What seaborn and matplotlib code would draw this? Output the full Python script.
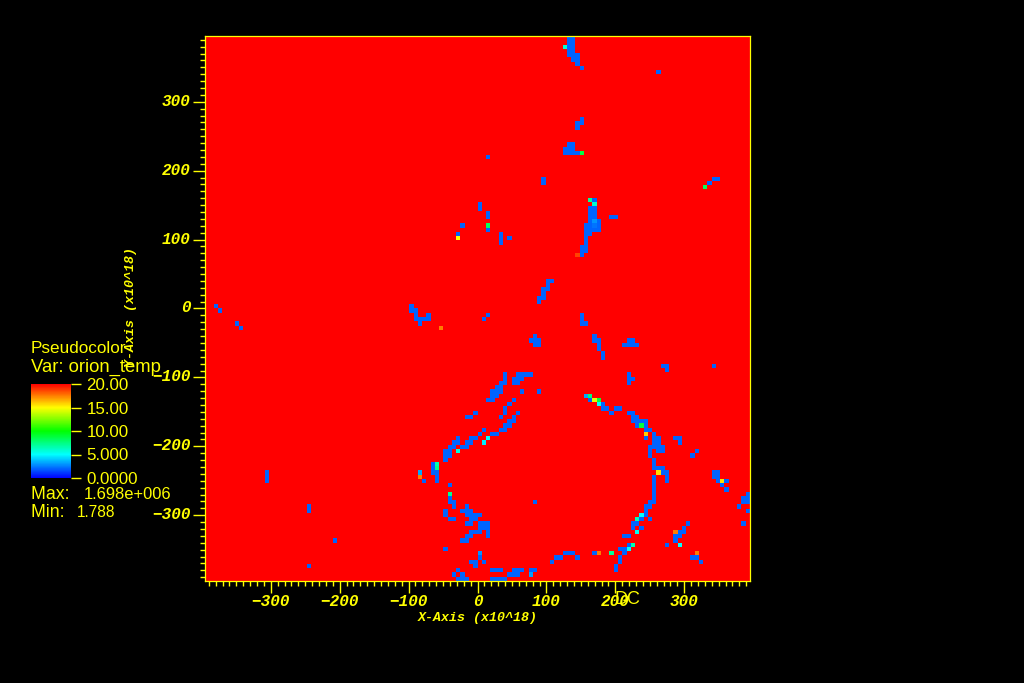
import numpy as np
import matplotlib
matplotlib.use("Agg")
import matplotlib.pyplot as plt
from matplotlib.colors import LinearSegmentedColormap
from matplotlib.transforms import ScaledTranslation
import seaborn as sns

# Grid description (x10^18 units)
N_CELLS = 128
EXTENT = 395.5
HOT_VALUE = 1000.0     # background temperature, far above the colour limit
COLD_VALUE = 2.0

# Cold runs: (row from top, first column, last column)
north_stream = [(0,85,86),(1,85,86),(2,85,86),(3,85,86),(4,85,87),(5,86,87),(6,87,87),(7,88,88),
                (8,106,106),(19,88,88),(20,87,88),(21,87,87),(25,85,86),(26,84,86),(27,84,87),(28,66,66),
                (33,79,79),(34,79,79),(33,119,120),(34,118,118)]
central_stream = [(38,91,91),(40,90,91),(41,90,91),(42,90,91),(42,95,96),(43,90,92),(44,89,92),(45,89,92),
                  (46,89,90),(47,89,89),(48,89,89),(49,88,89),(50,88,89),(51,88,88),
                  (39,64,64),(40,64,64),(41,66,66),(42,66,66),(44,60,60),(45,66,66),(46,59,59),
                  (46,69,69),(47,69,69),(48,69,69),(47,71,71)]
mid_knots = [(57,80,81),(58,80,80),(59,79,80),(60,79,79),(61,78,79),(62,78,78),
             (63,2,2),(64,3,3),(67,7,7),(68,8,8),
             (63,48,48),(64,48,49),(65,49,49),(65,52,52),(66,49,52),(67,50,50),(65,66,66),(66,65,65),
             (65,88,88),(66,88,88),(67,88,89),(70,77,77),(71,76,78),(72,77,78),
             (70,91,91),(71,91,92),(72,92,92),(73,92,92),(74,93,93),(75,93,93),
             (71,99,100),(72,98,101)]
west_arc = [(79,70,70),(79,73,76),(80,70,70),(80,72,74),(81,69,70),(81,72,73),(82,68,69),(83,67,69),
            (83,74,74),(83,78,78),(84,67,68),(85,66,67),(85,72,72),(86,71,71),(87,70,70),(88,63,63),
            (88,70,70),(88,73,73),(89,61,62),(89,69,69),(89,72,72),(90,71,72),(91,70,71),(92,65,65),
            (92,69,70),(93,64,64),(93,67,68),(94,59,59),(94,62,63),(95,58,59),(95,61,62),(96,57,58),
            (96,60,61),(97,56,57),(98,56,57),(99,56,56),(100,53,53),(101,53,53),(102,53,54),(103,54,54),
            (104,51,51),(104,54,54),(105,57,57),(108,57,57),(109,57,58),(109,77,77),(110,58,58),(110,61,61)]
southwest_knots = [(111,56,56),(111,60,62),(112,56,56),(112,61,64),(113,57,58),(113,62,63),(114,61,62),
                   (114,64,66),(115,64,66),(116,62,64),(116,66,66),(117,61,62),(117,66,66),(118,60,61),
                   (120,56,56),(122,64,64),(123,62,63),(123,65,65),(124,63,63),(125,59,59),(125,67,69),
                   (125,72,74),(125,76,77),(126,58,58),(126,60,60),(126,71,73),(127,59,61),(127,67,70),
                   (121,84,86),(122,82,83),(122,87,87),(123,81,81),
                   (102,14,14),(103,14,14),(104,14,14),(110,24,24),(111,24,24),(118,30,30),(124,24,24)]
east_arc = [(77,107,108),(77,119,119),(78,108,108),(79,99,99),(80,99,100),(81,99,99),(85,90,90),(86,93,93),
            (87,93,94),(87,96,97),(88,95,95),(88,99,100),(89,100,101),(90,100,103),(91,101,101),(91,103,103),
            (92,103,104),(93,105,105),(94,103,103),(94,105,106),(94,110,111),(95,105,106),(95,111,111),
            (96,104,107),(97,104,104),(97,106,107),(97,115,115),(98,104,104),(98,114,114),(99,105,105),
            (100,105,105),(101,105,107),(102,107,108),(102,119,120),(103,105,105),(103,108,108),(103,119,120),
            (104,105,105),(104,108,108),(104,120,120),(104,122,122),(105,105,105),(105,121,121),(106,105,105),
            (106,122,122),(107,105,105),(107,127,127),(108,105,105),(108,126,127),(109,104,105),(109,126,127),
            (110,103,104),(110,125,125),(111,103,103),(111,127,127),(112,103,103),(113,102,102),(113,104,104),
            (114,100,101),(114,113,113),(114,126,126),(115,100,100),(115,102,102),(115,112,112),(116,111,112),
            (117,98,99),(117,110,111),(118,110,110),(119,99,99),(119,108,108),(120,97,98),(121,91,91),(121,98,98),
            (122,97,97),(122,114,115),(123,97,97),(123,116,116),(124,96,96),(125,96,96)]

# Warmer single cells
warm_row = [2,27,35,38,39,43,44,44,47,51,68,84,84,85,85,86,91,93,94,95,97,100,101,102,102,103,107,
            112,113,116,119,119,120,121,121,121,121,126,104,116]
warm_col = [84,88,117,90,91,91,91,66,59,87,55,89,90,91,92,92,102,103,66,65,59,54,54,106,50,50,57,
            102,101,101,100,111,99,64,92,95,115,76,121,110]
warm_val = [5.8,8.6,8.2,7.0,6.0,2.9,2.3,8.2,15.0,18.6,17.5,3.3,7.6,14.5,8.8,5.0,8.8,16.0,5.0,4.7,5.6,6.6,7.2,
            15.6,3.3,17.5,7.2,5.0,6.4,5.3,6.6,5.0,5.0,2.9,17.5,7.0,17.5,3.2,15.6,17.5]

cb_ticks = [0, 5, 10, 15, 20]
cb_labels = ["0.0000", "5.000", "10.00", "15.00", "20.00"]
ticks_major = [-300, -200, -100, 0, 100, 200, 300]
ticks_minor = list(range(-390, 391, 10))

YEL = "#ffff00"
sns.set_style("white")
plt.rcParams["font.family"] = ["Liberation Sans", "DejaVu Sans"]

grid = np.full((N_CELLS, N_CELLS), HOT_VALUE)
for runs in (north_stream, central_stream, mid_knots, west_arc, southwest_knots, east_arc):
    for r, a, b in runs:
        grid[r, a:b + 1] = COLD_VALUE
grid[warm_row, warm_col] = warm_val

cmap = LinearSegmentedColormap.from_list("visit_hot", ["#0000ff", "#00ffff", "#00ff00", "#ffff00", "#ff0000"], N=256)

fig = plt.figure(figsize=(10.24, 6.83), dpi=100, facecolor="black")
W, H = 1024.0, 683.0
ax = fig.add_axes([205 / W, (H - 581) / H, 545 / W, 545 / H], facecolor="black")
cax = fig.add_axes([31 / W, (H - 478) / H, 40 / W, 94 / H], facecolor="black")

sns.heatmap(grid, ax=ax, cmap=cmap, vmin=0, vmax=20, cbar=True, cbar_ax=cax,
            xticklabels=False, yticklabels=False, square=False)

cell = 2 * EXTENT / N_CELLS
xpos = lambda v: (np.asarray(v, float) + EXTENT) / cell
ypos = lambda v: (EXTENT - np.asarray(v, float)) / cell

tick_font = dict(family="Liberation Mono", weight="bold", style="italic", color=YEL)
ax.set_xticks(xpos(ticks_major))
ax.set_xticklabels([str(v).replace("-", "\u2212") for v in ticks_major], fontsize=11.5, **tick_font)
ax.set_yticks(ypos(ticks_major))
ax.set_yticklabels([str(v).replace("-", "\u2212") for v in ticks_major], fontsize=11.5, rotation=0, **tick_font)
ax.set_xticks(xpos(ticks_minor), minor=True)
ax.set_yticks(ypos(ticks_minor), minor=True)
ax.tick_params(axis="x", which="major", length=8.5, width=1.0, color=YEL, pad=1, bottom=True)
ax.tick_params(axis="y", which="major", length=8.5, width=1.0, color=YEL, pad=2, left=True)
ax.tick_params(axis="both", which="minor", length=3.5, width=1.0, color=YEL, bottom=True, left=True)
nudge = ScaledTranslation(0, 1.5 / 72, fig.dpi_scale_trans)
for lab in ax.get_yticklabels():
    lab.set_transform(lab.get_transform() + nudge)
for s in ax.spines.values():
    s.set_visible(True)
    s.set_color(YEL)
    s.set_linewidth(0.9)

ax.set_xlabel("")
ax.set_ylabel("")
lab_font = dict(family="Liberation Mono", weight="bold", style="italic", color=YEL, fontsize=9.5)
fig.text(478 / W, 1 - 617.5 / H, "X-Axis (x10^18)", ha="center", va="center", **lab_font)
fig.text(131 / W, 1 - 307 / H, "Y-Axis (x10^18)", ha="center", va="center", rotation=90, **lab_font)

cax.set_yticks(cb_ticks)
cax.set_yticklabels(cb_labels, fontsize=12.2, color=YEL)
cax.tick_params(axis="y", length=7.5, width=1.0, color=YEL, pad=3.5, right=True, left=False)
for s in cax.spines.values():
    s.set_visible(False)

leg = dict(color=YEL, va="center", ha="left")
fig.text(31 / W, 1 - 348.5 / H, "Pseudocolor", fontsize=12.3, **leg)
fig.text(31 / W, 1 - 367 / H, "Var: orion_temp", fontsize=13.3, **leg)
fig.text(31 / W, 1 - 494.5 / H, "Max:  ", fontsize=12.8, **leg)
fig.text(84 / W, 1 - 494.5 / H, "1.698e+006", fontsize=11.9, **leg)
fig.text(31 / W, 1 - 512.5 / H, "Min:  ", fontsize=12.8, **leg)
fig.text(77 / W, 1 - 512.5 / H, "1.788", fontsize=11.2, **leg)
fig.text(615 / W, 1 - 599 / H, "DC", fontsize=13, **leg)

fig.savefig("out.png", dpi=100, facecolor="black")
